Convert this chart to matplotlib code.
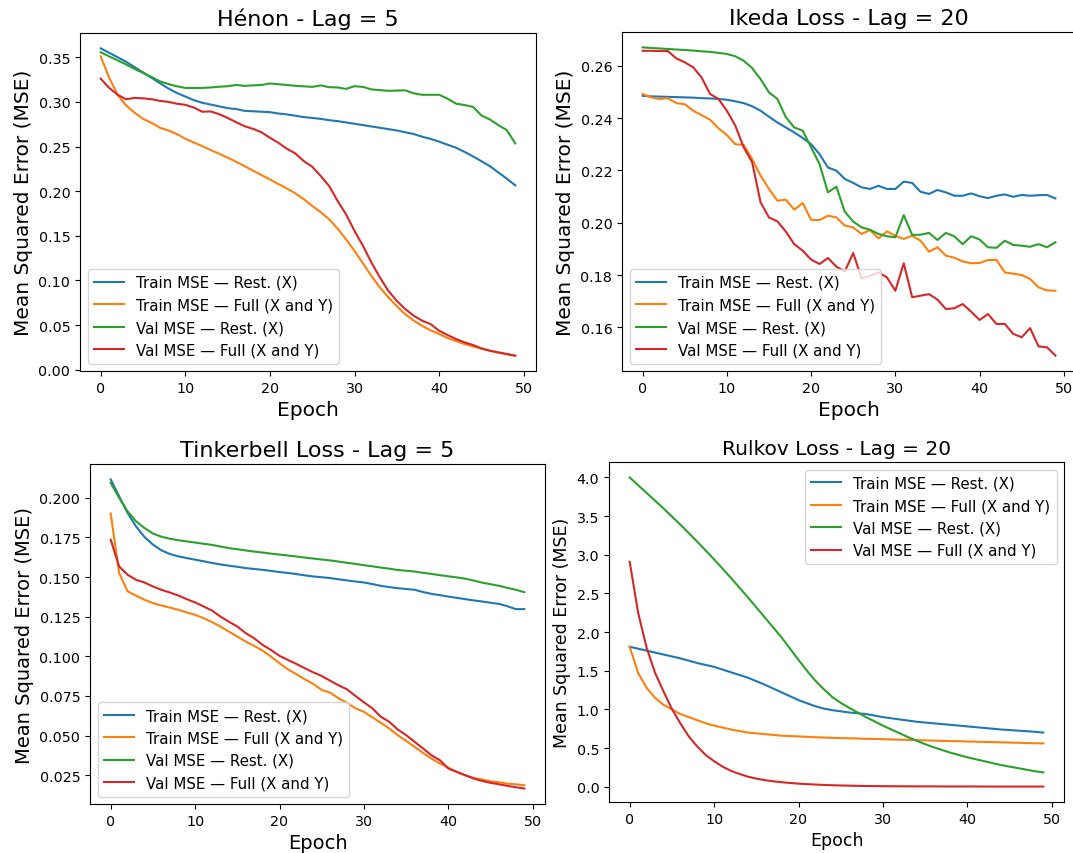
import numpy as np
import matplotlib
matplotlib.use("Agg")
import matplotlib.pyplot as plt

# ── Data ──────────────────────────────────────────────────────────────────────
epochs = list(range(50))

labels = ["Train MSE — Rest. (X)", "Train MSE — Full (X and Y)",
          "Val MSE — Rest. (X)", "Val MSE — Full (X and Y)"]

henon_train_rest = [0.360, 0.355, 0.350, 0.345, 0.339, 0.333, 0.327, 0.321, 0.315, 0.310,
                    0.306, 0.302, 0.299, 0.297, 0.295, 0.293, 0.292, 0.290, 0.2895, 0.289,
                    0.2885, 0.287, 0.286, 0.2845, 0.283, 0.282, 0.281, 0.2795, 0.2785, 0.277,
                    0.2755, 0.274, 0.2725, 0.271, 0.2695, 0.268, 0.266, 0.264, 0.261, 0.2585,
                    0.2555, 0.252, 0.2487, 0.244, 0.239, 0.2335, 0.228, 0.221, 0.214, 0.2065]
henon_train_full = [0.351, 0.327, 0.308, 0.296, 0.288, 0.281, 0.2766, 0.271, 0.268, 0.264,
                    0.2587, 0.2545, 0.2505, 0.246, 0.242, 0.2375, 0.233, 0.228, 0.223, 0.218,
                    0.2132, 0.208, 0.203, 0.1976, 0.191, 0.1834, 0.1765, 0.1685, 0.158, 0.146,
                    0.133, 0.119, 0.105, 0.092, 0.081, 0.071, 0.062, 0.055, 0.049, 0.044,
                    0.040, 0.0355, 0.032, 0.0287, 0.026, 0.0235, 0.0212, 0.019, 0.0172, 0.0157]
henon_val_rest = [0.3556, 0.351, 0.3465, 0.342, 0.337, 0.3325, 0.328, 0.323, 0.320, 0.3175,
                  0.3157, 0.3155, 0.3157, 0.3162, 0.317, 0.3176, 0.319, 0.318, 0.3185, 0.319,
                  0.3206, 0.3198, 0.319, 0.318, 0.3175, 0.3168, 0.3185, 0.3165, 0.3162, 0.3146,
                  0.3176, 0.3168, 0.314, 0.3132, 0.3124, 0.3127, 0.313, 0.3095, 0.308, 0.308,
                  0.308, 0.3036, 0.298, 0.2965, 0.2945, 0.2848, 0.2803, 0.274, 0.2684, 0.2535]
henon_val_full = [0.326, 0.3157, 0.308, 0.303, 0.3045, 0.304, 0.303, 0.3012, 0.300, 0.298,
                  0.2967, 0.2937, 0.289, 0.2893, 0.2863, 0.282, 0.2773, 0.2728, 0.2698, 0.266,
                  0.2598, 0.2542, 0.2475, 0.2423, 0.2337, 0.2274, 0.217, 0.2057, 0.189, 0.174,
                  0.1554, 0.1387, 0.120, 0.1033, 0.0883, 0.077, 0.0678, 0.0604, 0.0548, 0.051,
                  0.0436, 0.0388, 0.0343, 0.0306, 0.0276, 0.0239, 0.0212, 0.0194, 0.0175, 0.0157]

ikeda_train_rest = [0.2485, 0.2483, 0.2482, 0.2481, 0.248, 0.2479, 0.2478, 0.2476, 0.2475, 0.2473,
                    0.247, 0.2464, 0.2457, 0.2445, 0.2428, 0.2405, 0.2383, 0.2364, 0.2345, 0.2324,
                    0.230, 0.2262, 0.2211, 0.2199, 0.2167, 0.2152, 0.2135, 0.2129, 0.2141, 0.2129,
                    0.2129, 0.2157, 0.2152, 0.2118, 0.211, 0.2125, 0.2116, 0.2103, 0.2103, 0.2112,
                    0.2101, 0.2094, 0.2103, 0.2108, 0.2099, 0.2106, 0.2103, 0.2105, 0.2106, 0.2093]
ikeda_train_full = [0.2492, 0.2479, 0.2473, 0.2476, 0.2457, 0.2453, 0.2428, 0.2411, 0.2394, 0.2361,
                    0.2335, 0.230, 0.2297, 0.2243, 0.218, 0.2129, 0.2084, 0.2088, 0.205, 0.2075,
                    0.2011, 0.201, 0.2027, 0.202, 0.1989, 0.1982, 0.1957, 0.1972, 0.194, 0.1967,
                    0.195, 0.1938, 0.195, 0.1931, 0.1889, 0.1906, 0.1874, 0.1866, 0.1852, 0.1845,
                    0.1846, 0.1857, 0.1858, 0.181, 0.1805, 0.180, 0.1785, 0.1753, 0.1741, 0.174]
ikeda_val_rest = [0.267, 0.2668, 0.2666, 0.2664, 0.2662, 0.266, 0.2658, 0.2655, 0.2653, 0.2649,
                  0.2645, 0.2636, 0.2619, 0.2591, 0.2549, 0.2498, 0.2473, 0.2403, 0.2364, 0.2352,
                  0.2288, 0.2224, 0.2116, 0.2138, 0.2042, 0.2004, 0.1982, 0.1973, 0.1957, 0.1948,
                  0.1944, 0.2029, 0.1953, 0.1954, 0.1961, 0.1934, 0.1961, 0.1948, 0.1918, 0.1948,
                  0.1936, 0.1906, 0.1904, 0.1931, 0.1915, 0.1912, 0.1908, 0.1918, 0.1906, 0.1925]
ikeda_val_full = [0.2657, 0.2657, 0.2656, 0.2656, 0.2628, 0.2613, 0.2594, 0.2555, 0.2492, 0.2473,
                  0.2428, 0.2371, 0.2288, 0.2231, 0.2078, 0.202, 0.2005, 0.1966, 0.1918, 0.1893,
                  0.1859, 0.1842, 0.1865, 0.1832, 0.1814, 0.1884, 0.1787, 0.1797, 0.181, 0.1791,
                  0.174, 0.1845, 0.1715, 0.1721, 0.1727, 0.1706, 0.167, 0.1673, 0.1689, 0.166,
                  0.1628, 0.1651, 0.1613, 0.1613, 0.1575, 0.1562, 0.1597, 0.1527, 0.1524, 0.1492]

tink_train_rest = [0.2116, 0.201, 0.1905, 0.182, 0.1753, 0.1705, 0.1669, 0.1646, 0.1631, 0.162,
                   0.161, 0.160, 0.1589, 0.158, 0.1572, 0.1565, 0.1557, 0.1551, 0.1546, 0.1539,
                   0.1532, 0.1526, 0.1519, 0.1511, 0.1504, 0.1499, 0.1494, 0.1486, 0.1479, 0.1472,
                   0.1466, 0.1456, 0.1445, 0.1437, 0.143, 0.1425, 0.142, 0.1406, 0.1394, 0.1386,
                   0.1377, 0.1369, 0.1361, 0.1353, 0.1346, 0.1338, 0.1331, 0.1316, 0.1298, 0.1298]
tink_train_full = [0.1901, 0.1526, 0.141, 0.1383, 0.1357, 0.1336, 0.1321, 0.1308, 0.1294, 0.1277,
                   0.1262, 0.1241, 0.1216, 0.1188, 0.1156, 0.1125, 0.1093, 0.1066, 0.1036, 0.0998,
                   0.0956, 0.0918, 0.0887, 0.0855, 0.0826, 0.0788, 0.0771, 0.0735, 0.0707, 0.0672,
                   0.065, 0.0615, 0.0581, 0.0545, 0.0503, 0.0467, 0.0429, 0.0391, 0.0355, 0.0324,
                   0.0298, 0.0271, 0.025, 0.0233, 0.0223, 0.0212, 0.0206, 0.0197, 0.0193, 0.0187]
tink_val_rest = [0.2094, 0.200, 0.1915, 0.1852, 0.181, 0.1775, 0.1755, 0.1742, 0.1733, 0.1725,
                 0.1718, 0.171, 0.1703, 0.1693, 0.1683, 0.1676, 0.1668, 0.1661, 0.1655, 0.1648,
                 0.1642, 0.1636, 0.163, 0.1623, 0.1617, 0.1611, 0.1605, 0.1598, 0.159, 0.1583,
                 0.1575, 0.1568, 0.156, 0.1553, 0.1545, 0.154, 0.1535, 0.1527, 0.152, 0.1512,
                 0.1505, 0.1498, 0.149, 0.1478, 0.1465, 0.1455, 0.1445, 0.1432, 0.142, 0.1405]
tink_val_full = [0.1736, 0.1567, 0.1515, 0.1483, 0.1466, 0.1441, 0.142, 0.1403, 0.1384, 0.1361,
                 0.134, 0.1315, 0.1289, 0.1251, 0.1219, 0.1188, 0.1146, 0.1114, 0.1072, 0.104,
                 0.1003, 0.0977, 0.0952, 0.0925, 0.0899, 0.0876, 0.0846, 0.0817, 0.0792, 0.075,
                 0.071, 0.0672, 0.0619, 0.0587, 0.0539, 0.0503, 0.0461, 0.0419, 0.0376, 0.0345,
                 0.0292, 0.0271, 0.025, 0.0229, 0.0214, 0.0202, 0.0193, 0.0183, 0.0174, 0.0166]

rulkov_train_rest = [1.81, 1.785, 1.76, 1.735, 1.71, 1.685, 1.66, 1.63, 1.60, 1.575,
                     1.55, 1.515, 1.48, 1.445, 1.41, 1.365, 1.32, 1.27, 1.22, 1.17,
                     1.12, 1.08, 1.04, 1.01, 0.99, 0.975, 0.96, 0.95, 0.94, 0.92,
                     0.90, 0.885, 0.87, 0.855, 0.84, 0.83, 0.82, 0.81, 0.80, 0.79,
                     0.78, 0.77, 0.76, 0.75, 0.74, 0.733, 0.725, 0.718, 0.71, 0.70]
rulkov_train_full = [1.81, 1.47, 1.28, 1.15, 1.06, 1.00, 0.94, 0.90, 0.86, 0.82,
                     0.79, 0.765, 0.74, 0.72, 0.70, 0.69, 0.68, 0.67, 0.66, 0.655,
                     0.65, 0.645, 0.64, 0.636, 0.632, 0.629, 0.626, 0.623, 0.62, 0.617,
                     0.614, 0.611, 0.608, 0.605, 0.602, 0.599, 0.596, 0.593, 0.59, 0.588,
                     0.585, 0.582, 0.579, 0.577, 0.574, 0.571, 0.568, 0.565, 0.562, 0.56]
rulkov_val_rest = [4.0, 3.9, 3.8, 3.7, 3.6, 3.495, 3.39, 3.28, 3.17, 3.055,
                   2.94, 2.82, 2.70, 2.575, 2.45, 2.32, 2.19, 2.06, 1.93, 1.785,
                   1.64, 1.50, 1.37, 1.26, 1.16, 1.085, 1.02, 0.96, 0.90, 0.845,
                   0.79, 0.74, 0.69, 0.64, 0.595, 0.55, 0.51, 0.475, 0.44, 0.41,
                   0.38, 0.355, 0.33, 0.305, 0.28, 0.26, 0.24, 0.22, 0.20, 0.185]
rulkov_val_full = [2.91, 2.25, 1.80, 1.475, 1.235, 1.005, 0.82, 0.65, 0.52, 0.41,
                   0.33, 0.26, 0.205, 0.165, 0.13, 0.105, 0.085, 0.07, 0.058, 0.048,
                   0.04, 0.033, 0.028, 0.023, 0.019, 0.016, 0.013, 0.011, 0.009, 0.008,
                   0.007, 0.006, 0.005, 0.005, 0.004, 0.004, 0.004, 0.003, 0.003, 0.003,
                   0.003, 0.003, 0.002, 0.002, 0.002, 0.002, 0.002, 0.002, 0.002, 0.002]

# ── Layout: axes boxes in pixels (left, top, right, bottom) ───────────────────
W, H = 1073, 854
panels = [
    {"title": "Hénon - Lag = 5", "box": (80, 34, 536, 372), "loc": "lower left",
     "series": [henon_train_rest, henon_train_full, henon_val_rest, henon_val_full],
     "title_fs": 16, "label_fs": 14.5},
    {"title": "Ikeda Loss - Lag = 20", "box": (622, 33, 1076, 372), "loc": "lower left",
     "series": [ikeda_train_rest, ikeda_train_full, ikeda_val_rest, ikeda_val_full],
     "title_fs": 16, "label_fs": 14.5},
    {"title": "Tinkerbell Loss - Lag = 5", "box": (90, 465, 545, 805), "loc": "lower left",
     "series": [tink_train_rest, tink_train_full, tink_val_rest, tink_val_full],
     "title_fs": 16, "label_fs": 14},
    {"title": "Rulkov Loss - Lag = 20", "box": (609, 463, 1064, 803), "loc": "upper right",
     "series": [rulkov_train_rest, rulkov_train_full, rulkov_val_rest, rulkov_val_full],
     "title_fs": 14.5, "label_fs": 12.5},
]
colors = ["#1f77b4", "#ff7f0e", "#2ca02c", "#d62728"]

fig = plt.figure(figsize=(W / 100, H / 100), dpi=100)

for p in panels:
    l, t, r, b = p["box"]
    ax = fig.add_axes([l / W, 1 - b / H, (r - l) / W, (b - t) / H])
    for vals, lab, c in zip(p["series"], labels, colors):
        ax.plot(epochs, vals, color=c, linewidth=1.5, label=lab)
    ax.set_title(p["title"], fontsize=p["title_fs"])
    ax.set_xlabel("Epoch", fontsize=p["label_fs"])
    ax.set_ylabel("Mean Squared Error (MSE)", fontsize=p["label_fs"])
    ax.set_xticks([0, 10, 20, 30, 40, 50])
    ax.tick_params(labelsize=10.3)
    ax.legend(loc=p["loc"], fontsize=10.8)

fig.savefig("out.png", dpi=100)
